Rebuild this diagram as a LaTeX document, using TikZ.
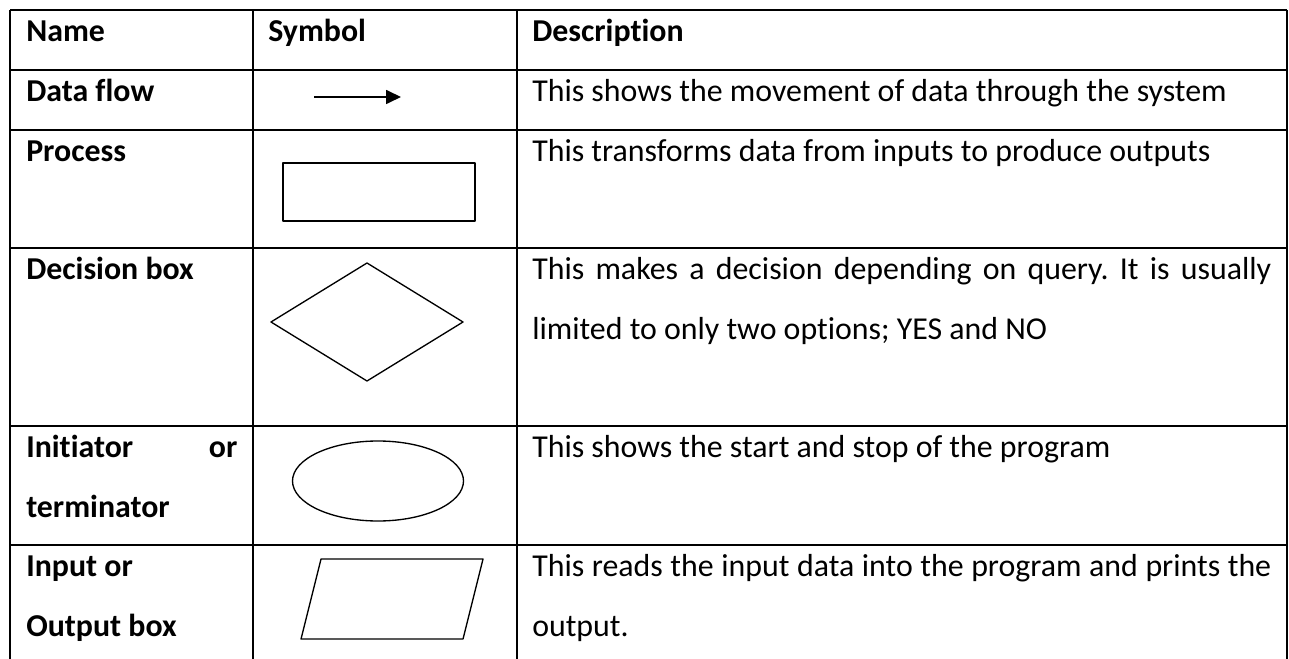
\documentclass[tikz,border=0pt]{standalone}
\usepackage{fontspec}
\setmainfont{Carlito}[Ligatures=NoCommon]
\usetikzlibrary{arrows.meta,calc}
\usepackage{tkz-euclide}
\definecolor{GridClr}{rgb}{0,0,0}
\definecolor{ShapeClr}{rgb}{0,0,0}
\hyphenpenalty=10000
\frenchspacing

\begin{document}
\begin{tikzpicture}[x=0.75pt,y=-0.75pt,
  grid/.style={line width=1.6pt,color=GridClr},
  cell/.style={anchor=base west,inner sep=0pt,font=\fontsize{23.9pt}{45pt}\selectfont},
  head/.style={cell,font=\fontsize{23.9pt}{45pt}\selectfont\bfseries},
  namecell/.style={head,text width=158.25pt,align=justify},
  desccell/.style={cell,text width=554.25pt,align=justify},
  flow/.style={line width=1.3pt,color=ShapeClr,-{Triangle[length=11.25pt,width=10.5pt]}}]
\useasboundingbox (0,0) rectangle (1289,659);
\tkzSetUpLine[line width=1pt,color=ShapeClr]

% table grid
\draw[grid] (10,10) -- (1287,10) (10,70) -- (1287,70) (10,130) -- (1287,130)
  (10,248) -- (1287,248) (10,426) -- (1287,426) (10,545) -- (1287,545);
\draw[grid] (10,10) -- (10,659) (253,10) -- (253,659) (517,10) -- (517,659) (1287,10) -- (1287,659);

% symbols
\tkzDefPoints{314/97/F1,401/97/F2,283/163/R1,475/163/R2,475/221/R3,283/221/R4,
  367/263/D1,463/322/D2,367/381/D3,271/322/D4,378/481/E,
  321/559/P1,483/559/P2,463/639/P3,301/639/P4}
\draw[flow] (F1) -- (F2);
\tkzDrawPolygon(R1,R2,R3,R4)
\tkzDrawPolygon(D1,D2,D3,D4)
\draw[line width=1pt,color=ShapeClr] (E) ellipse [x radius=85.5,y radius=40];
\tkzDrawPolygon(P1,P2,P3,P4)

% header
\node[head] (hName) at (26,41.7) {Name};
\node[head] (hSymbol) at (268,41.7) {Symbol};
\node[head] (hDesc) at (532,41.7) {Description};

% rows
\node[head] (nFlow) at (26,101.7) {Data flow};
\node[cell] (dFlow) at (532,101.7) {This shows the movement of data through the system};
\node[head] (nProcess) at (26,161.7) {Process};
\node[cell] (dProcess) at (532,161.7) {This transforms data from inputs to produce outputs};
\node[head] (nDecision) at (26,279.7) {Decision box};
\node[desccell] (dDecision) at (532,279.7) {This makes a decision depending on query. It is usually\linebreak limited to only two options; YES and NO};
\node[namecell] (nTerm) at (26,457.7) {Initiator or\linebreak terminator};
\node[cell] (dTerm) at (532,457.7) {This shows the start and stop of the program};
\node[namecell] (nIO) at (26,576.7) {Input or\\Output box};
\node[desccell] (dIO) at (532,576.7) {This reads the input data into the program and prints the\linebreak output.};

\end{tikzpicture}
\end{document}
